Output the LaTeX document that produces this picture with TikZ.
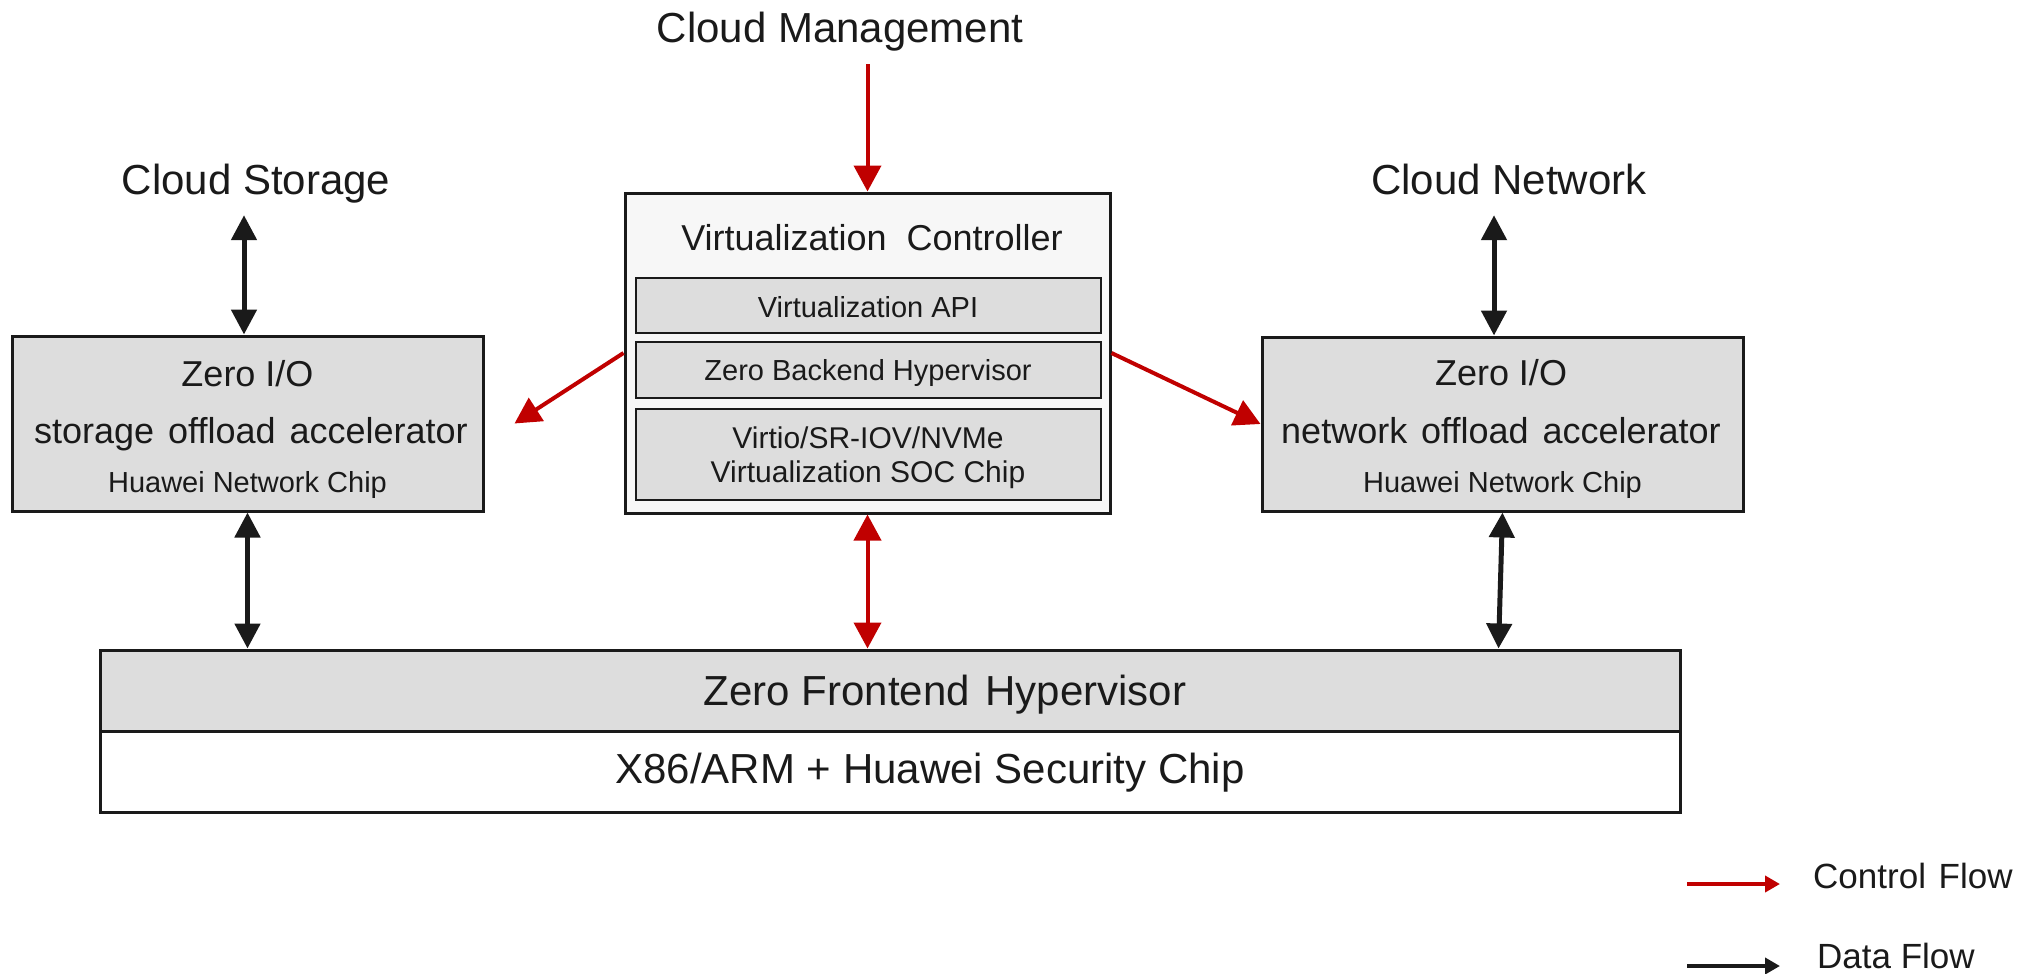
\documentclass[tikz,border=0pt]{standalone}
\usepackage{fontspec}
\setmainfont{Liberation Sans}
\usetikzlibrary{arrows.meta,positioning}
\definecolor{hwred}{HTML}{C00000}
\definecolor{ink}{HTML}{1A1A1A}
\definecolor{boxgray}{HTML}{DDDDDD}
\definecolor{ctlfill}{HTML}{F7F7F7}
\tikzset{
  blk/.style={rectangle, draw=ink, line width=3pt, fill=#1, inner sep=0pt},
  subblk/.style={rectangle, draw=ink, line width=2pt, fill=boxgray,
                 minimum width=465pt, inner sep=0pt},
  lbl/.style={anchor=base, inner sep=0pt, text=ink, font=\fontsize{#1}{#1}\selectfont},
  cloudlbl/.style={anchor=base, inner sep=21pt, text depth=0pt, text=ink,
                   font=\fontsize{42}{42}\selectfont},
  ctrl/.style={-{Triangle[length=26pt,width=27pt]}, line width=4pt, draw=hwred},
  ctrlboth/.style={{Triangle[length=26pt,width=27pt]}-{Triangle[length=26pt,width=27pt]},
                   line width=4pt, draw=hwred},
  data/.style={{Triangle[length=25pt,width=25pt]}-{Triangle[length=25pt,width=25pt]},
               line width=5pt, draw=ink},
  keyarr/.style={-{Triangle[length=15pt,width=16pt]}, line width=4pt, draw=#1},
}
\begin{document}
\begin{tikzpicture}[x=1pt,y=-1pt]
  \useasboundingbox (0,0) rectangle (2037,974);
  % cloud side labels
  \node[cloudlbl] (cmgmt) at (840,43)  {Cloud Management};
  \node[cloudlbl] (cstor) at (256,194) {Cloud Storage};
  \node[cloudlbl] (cnet)  at (1509,194) {Cloud Network};
  % virtualization controller
  \node[blk=ctlfill, minimum width=485pt, minimum height=320pt] (vc) at (867.5,353) {};
  \node[lbl=36] (vctitle) at (872,250) {Virtualization\ \ Controller};
  \node[subblk, minimum height=55pt] (api)  at (868.5,305.5) {};
  \node[subblk, minimum height=56pt] (bkd)  at (868.5,370) {};
  \node[subblk, minimum height=91pt] (soc)  at (868.5,454.5) {};
  \node[lbl=29] (apitxt) at (868,317) {Virtualization API};
  \node[lbl=29] (bkdtxt) at (868,380) {Zero Backend Hypervisor};
  \node[lbl=30] (soctxta) at (868,448) {Virtio/SR-IOV/NVMe};
  \node[lbl=30] (soctxtb) at (868,482) {Virtualization SOC Chip};
  % offload accelerators
  \node[blk=boxgray, minimum width=471pt, minimum height=175pt] (stor) at (247.5,423.5) {};
  \node[lbl=36] (stortop) at (247.5,386) {Zero I/O};
  \node[lbl=36] (stormid) at (251,443) {storage\hspace{4pt} offload\hspace{4pt} accelerator};
  \node[lbl=29] (storchip) at (247.5,492) {Huawei Network Chip};
  \node[blk=boxgray, minimum width=481pt, minimum height=174pt] (net) at (1502.5,424) {};
  \node[lbl=36] (nettop) at (1501,385) {Zero I/O};
  \node[lbl=36] (netmid) at (1501,443) {network\hspace{4pt} offload\hspace{4pt} accelerator};
  \node[lbl=29] (netchip) at (1502.5,492) {Huawei Network Chip};
  % host layers
  \node[blk=boxgray, minimum width=1580pt, minimum height=81pt] (fe) at (890,690.5) {};
  \node[blk=white, minimum width=1580pt, minimum height=81pt] (hw) at (890,771.5) {};
  \node[lbl=42] (fetxt) at (945,705) {Zero Frontend\hspace{4pt} Hypervisor};
  \node[lbl=42] (hwtxt) at (930,783) {X86/ARM + Huawei Security Chip};
  % flows
  \draw[ctrl] (cmgmt.south -| vc.north) -- (vc.north);
  \draw[data] (cstor.south -| 244,0) -- (stor.north -| 244,0);
  \draw[data] (cnet.south -| 1494,0) -- (net.north -| 1494,0);
  \draw[ctrl] (vc.west) -- ([xshift=30pt]stor.east);
  \draw[ctrl] (vc.east) -- (net.west);
  \coordinate (fenet) at (fe.north -| net.south);
  \draw[data] (stor.south) -- (stor.south |- fe.north);
  \draw[ctrlboth] (vc.south) -- (vc.south |- fe.north);
  \draw[data] (net.south) -- ([xshift=-4pt]fenet);
  % legend
  \coordinate (ctrlkey) at (1687,884);
  \coordinate (datakey) at (1687,966);
  \node[lbl=35, anchor=base west] (ctrllbl) at (1813,888) {Control\hspace{3pt} Flow};
  \node[lbl=35, anchor=base west] (datalbl) at (1817,968) {Data Flow};
  \draw[keyarr=hwred] (ctrlkey) -- ++(93,0);
  \draw[keyarr=ink] (datakey) -- ++(93,0);
\end{tikzpicture}
\end{document}
